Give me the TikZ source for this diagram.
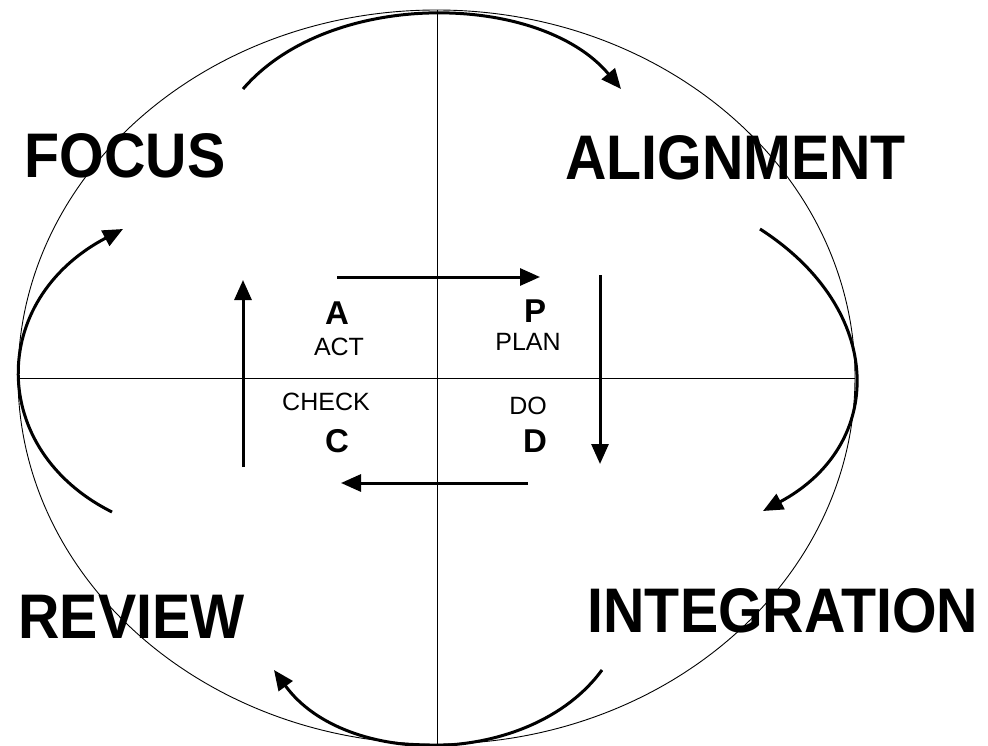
\documentclass[tikz,border=0pt]{standalone}
\usepackage{fontspec}
\setmainfont{Liberation Sans}
\usetikzlibrary{arrows.meta}
\newcommand{\biglabel}[1]{\scalebox{0.91}[1]{\fontsize{63}{63}\selectfont\bfseries #1}}
\tikzset{
  thin line/.style={line width=0.9pt, black},
  flow/.style={line width=3pt, black, -{Triangle[length=20pt,width=17pt]}},
  big/.style={anchor=base, inner sep=0pt},
  letter/.style={anchor=base, inner sep=0pt, font=\fontsize{33}{33}\selectfont\bfseries},
  word/.style={anchor=base, inner sep=0pt, font=\fontsize{25}{25}\selectfont},
}
\begin{document}
\begin{tikzpicture}[x=1pt,y=-1pt]
\useasboundingbox (0,0) rectangle (988,746);
% outline and axes
\draw[thin line] (436.5,377) ellipse [x radius=418.5pt, y radius=367pt];
\coordinate (axL) at (18,378);
\coordinate (axR) at (855,378);
\coordinate (axT) at (437,10);
\coordinate (axB) at (437,744);
\draw[thin line] (axL) -- (axR);
\draw[thin line] (axT) -- (axB);
% big labels
\node[big] (focus) at (125,178) {\biglabel{FOCUS}};
\node[big] (align) at (735.5,180) {\biglabel{ALIGNMENT}};
\node[big] (review) at (131.5,638) {\biglabel{REVIEW}};
\node[big] (integ) at (783,632) {\biglabel{INTEGRATION}};
% inner labels
\node[letter] (A) at (337,324) {A};
\node[word] (act) at (339,355) {ACT};
\node[letter] (P) at (535,322) {P};
\node[word] (plan) at (528,350) {PLAN};
\node[word] (check) at (326,410) {CHECK};
\node[letter] (C) at (337,452) {C};
\node[word] (do) at (528,414) {DO};
\node[letter] (D) at (535,452) {D};
% inner arrows
\coordinate (i1s) at (337,277);
\coordinate (i1e) at (540,277);
\coordinate (i2s) at (600,275);
\coordinate (i2e) at (600,464);
\coordinate (i3s) at (528,483);
\coordinate (i3e) at (341,483);
\coordinate (i4s) at (243,467);
\coordinate (i4e) at (243,280);
\draw[flow] (i1s) -- (i1e);
\draw[flow] (i2s) -- (i2e);
\draw[flow] (i3s) -- (i3e);
\draw[flow] (i4s) -- (i4e);
% outer arcs
\coordinate (o1s) at (243,89);
\coordinate (o1e) at (621,89);
\coordinate (o2s) at (760,229);
\coordinate (o2e) at (763,511);
\coordinate (o3s) at (602,670);
\coordinate (o3e) at (274,670);
\coordinate (o4s) at (112,512);
\coordinate (o4e) at (123,229);
\draw[flow] (o1s) .. controls (330,-12) and (540,-8) .. (o1e);
\draw[flow] (o2s) .. controls (886,310) and (886,445) .. (o2e);
\draw[flow] (o3s) .. controls (530,768) and (345,768) .. (o3e);
\draw[flow] (o4s) .. controls (-12,450) and (-12,300) .. (o4e);
\end{tikzpicture}
\end{document}
